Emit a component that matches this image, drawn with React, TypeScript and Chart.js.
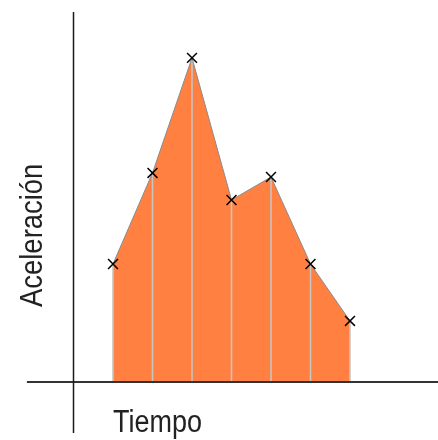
import React, { useEffect, useRef } from "react";
import { Chart, registerables } from "chart.js";

Chart.register(...registerables);

const timeSteps = [1, 2, 3, 4, 5, 6, 7];
const accelValues = [3.19, 5.65, 8.76, 4.92, 5.54, 3.19, 1.65];
const xAxisTitle = "Tiempo";
const yAxisTitle = "Aceleración";

const labelPlugin = {
  id: "axisLabels",
  afterDraw(chart: any) {
    const ctx = chart.ctx;
    const xs = chart.scales.x;
    const ys = chart.scales.y;
    ctx.save();
    ctx.fillStyle = "#222222";
    ctx.font = "31px 'Liberation Sans', Arial, sans-serif";
    ctx.textBaseline = "alphabetic";
    ctx.textAlign = "left";
    // x title
    ctx.save();
    ctx.translate(xs.getPixelForValue(1), ys.getPixelForValue(0) + 50);
    ctx.scale(0.87, 1);
    ctx.fillText(xAxisTitle, 0, 0);
    ctx.restore();
    // y title
    ctx.save();
    ctx.translate(xs.getPixelForValue(0) - 32, ys.getPixelForValue(0) - 75);
    ctx.rotate(-Math.PI / 2);
    ctx.scale(0.885, 1);
    ctx.fillText(yAxisTitle, 0, 0);
    ctx.restore();
    ctx.restore();
  },
};

export default function App() {
  const ref = useRef<HTMLCanvasElement | null>(null);
  useEffect(() => {
    if (!ref.current) return;
    const verticals = timeSteps.map((t, i) => ({
      type: "line" as const,
      data: [
        { x: t, y: 0 },
        { x: t, y: accelValues[i] },
      ],
      borderColor: "#c8c4c0",
      borderWidth: 1.6,
      pointRadius: 0,
      fill: false,
      order: 2,
    }));
    const chart = new Chart(ref.current, {
      type: "line",
      data: {
        datasets: [
          {
            data: timeSteps.map((t, i) => ({ x: t, y: accelValues[i] })),
            borderColor: "#8a8a8a",
            borderWidth: 1,
            backgroundColor: "#ff8040",
            fill: "origin",
            tension: 0,
            pointStyle: "crossRot",
            pointRadius: 7,
            pointBorderColor: "#000000",
            pointBorderWidth: 1.5,
            order: 1,
          },
          ...verticals,
          {
            data: [
              { x: 0, y: -1.38 },
              { x: 0, y: 10.0 },
            ],
            borderColor: "#1a1a1a",
            borderWidth: 1.5,
            pointRadius: 0,
            fill: false,
            order: 0,
          },
          {
            data: [
              { x: -1.18, y: 0 },
              { x: 9.3, y: 0 },
            ],
            borderColor: "#333333",
            borderWidth: 1.8,
            pointRadius: 0,
            fill: false,
            order: 0,
          },
        ] as any,
      },
      options: {
        animation: false,
        responsive: false,
        devicePixelRatio: 1,
        layout: { padding: 0, autoPadding: false },
        plugins: {
          legend: { display: false },
          tooltip: { enabled: false },
          filler: { drawTime: "beforeDatasetsDraw" },
        } as any,
        scales: {
          x: { type: "linear", display: false, min: -1.861, max: 9.228 },
          y: { type: "linear", display: false, min: -1.5676, max: 10.3243 },
        },
      },
      plugins: [labelPlugin],
    });
    return () => chart.destroy();
  }, []);
  return (
    <div style={{ position: "absolute", left: 0, top: 0, width: 438, height: 440, background: "#fff" }}>
      <canvas ref={ref} width={438} height={440} style={{ display: "block" }} />
    </div>
  );
}
